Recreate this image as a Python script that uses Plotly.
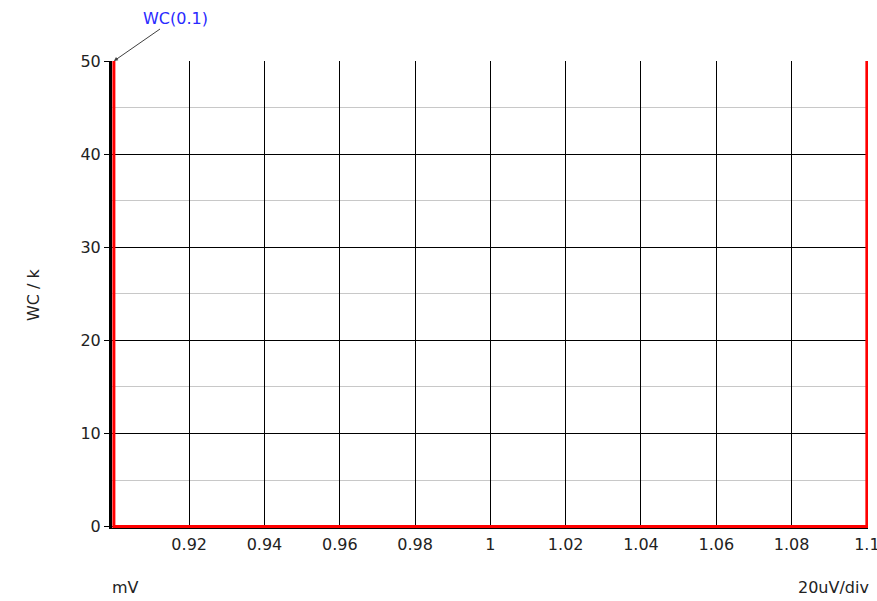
"""WC(0.1) vs mV plot, SIMetrix style."""

import plotly.graph_objects as go

# Data
x_mv = [0.9, 0.9, 1.1, 1.1]
wc_k = [50, 0, 0, 50]

x_ticks = [0.92, 0.94, 0.96, 0.98, 1.0, 1.02, 1.04, 1.06, 1.08, 1.1]
x_ticktext = ["0.92", "0.94", "0.96", "0.98", "1", "1.02", "1.04", "1.06", "1.08", "1.1"]
y_ticks = [0, 10, 20, 30, 40, 50]

FONT = "DejaVu Sans, sans-serif"
FSIZE = 16

fig = go.Figure()

fig.add_trace(
    go.Scatter(
        x=x_mv,
        y=wc_k,
        mode="lines",
        line=dict(color="#ff0000", width=3),
        name="WC(0.1)",
        hoverinfo="x+y",
    )
)

# Curve label with arrow
fig.add_annotation(
    x=0.9,
    y=50,
    text="WC(0.1)",
    showarrow=True,
    arrowhead=2,
    arrowsize=0.8,
    arrowwidth=1,
    arrowcolor="#404040",
    ax=62,
    ay=-43,
    font=dict(color="#2a2aff", size=FSIZE, family=FONT),
)

# Axis captions
fig.add_annotation(
    xref="paper", yref="paper", x=-0.119, y=0.5,
    text="WC / k", textangle=-90, showarrow=False,
    font=dict(size=FSIZE, color="#222222", family=FONT),
)
fig.add_annotation(
    xref="paper", yref="paper", x=0.018, y=-0.128,
    text="mV", showarrow=False, xanchor="center", yanchor="middle",
    font=dict(size=FSIZE, color="#222222", family=FONT),
)
fig.add_annotation(
    xref="paper", yref="paper", x=0.955, y=-0.128,
    text="20uV/div", showarrow=False, xanchor="center", yanchor="middle",
    font=dict(size=FSIZE, color="#222222", family=FONT),
)

fig.update_layout(
    width=877,
    height=601,
    margin=dict(l=112, r=9, t=61, b=73, autoexpand=False),
    plot_bgcolor="white",
    paper_bgcolor="white",
    showlegend=False,
    font=dict(family=FONT, size=FSIZE, color="#222222"),
    xaxis=dict(
        range=[0.8995, 1.1003],
        tickvals=x_ticks,
        ticktext=x_ticktext,
        showgrid=True,
        gridcolor="black",
        gridwidth=1,
        zeroline=False,
        showline=True,
        linecolor="black",
        linewidth=1,
        ticks="",
        ticklabelstandoff=2,
        ticklabeloverflow="allow",
        automargin=False,
    ),
    yaxis=dict(
        range=[-0.15, 50],
        tickvals=y_ticks,
        showgrid=True,
        gridcolor="black",
        gridwidth=1,
        zeroline=False,
        showline=True,
        linecolor="black",
        linewidth=3,
        ticks="outside",
        ticklen=5,
        tickcolor="black",
        ticklabelstandoff=0,
        automargin=False,
        minor=dict(dtick=5, tick0=0, showgrid=True, gridcolor="#c8c8c8", gridwidth=1, ticks=""),
    ),
)

fig.write_html(
    "out.html",
    config={"displayModeBar": False},
    post_script="document.body.style.margin='0';",
)
